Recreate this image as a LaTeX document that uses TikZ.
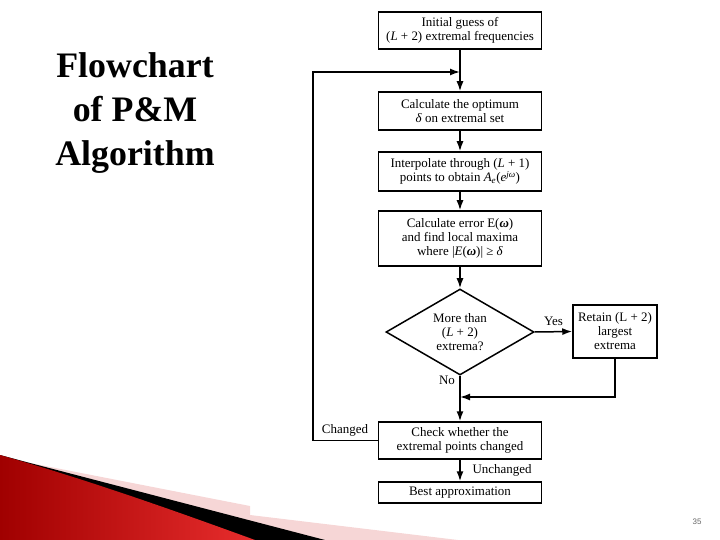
\documentclass[tikz,border=0pt]{standalone}
\usepackage{fontspec}
\setmainfont{Liberation Serif}
\newfontfamily\numfont{Liberation Sans}
\usetikzlibrary{shapes.geometric,arrows.meta}
\definecolor{swpink}{RGB}{246,214,214}
\definecolor{swdark}{RGB}{160,0,0}
\definecolor{swlight}{RGB}{232,45,45}
\begin{document}
\begin{tikzpicture}[x=1bp,y=-1bp,
  box/.style={draw, line width=1.5bp, minimum width=163bp, inner sep=1bp, align=center, font=\fontsize{13}{14}\selectfont},
  arr/.style={line width=1.5bp, -{Latex[length=10bp,width=7bp]}},
  lbl/.style={font=\fontsize{13}{14}\selectfont, inner sep=1bp},
  ttl/.style={align=center, font=\fontsize{36}{44}\selectfont\bfseries}]
\useasboundingbox (0,0) rectangle (720,540);
% swoosh
\fill[swpink] (30,463) -- (250,506) -- (250,515) -- (458,540) -- (0,540) -- cycle;
\fill[black] (0,455) -- (30,463) -- (325,540) -- (0,540) -- cycle;
\shade[left color=swdark, right color=swlight] (0,455) .. controls (85,479) and (170,509) .. (255,540) -- (0,540) -- cycle;
% title
\node[ttl] (title) at (135,113) {Flowchart\\of P\&M\\Algorithm};
% page number
\node[font=\numfont\fontsize{8}{9}\selectfont, text=gray!80!black] (pnum) at (697,522) {35};
% flowchart nodes
\node[box, minimum height=37bp] (b1) at (460,30.5) {Initial guess of\\(\textit{L} + 2) extremal frequencies};
\node[box, minimum height=38bp] (b2) at (460,111) {Calculate the optimum\\\textit{δ} on extremal set};
\node[box, minimum height=39bp] (b3) at (460,171.5) {Interpolate through (\textit{L} + 1)\\points to obtain \textit{A}\textsubscript{\textit{e}}(\textit{e}\textsuperscript{\textit{jω}})};
\node[box, minimum height=55bp] (b4) at (460,238.5) {Calculate error E(\textbf{\textit{ω}})\\and find local maxima\\where |\textit{E}(\textbf{\textit{ω}})| ≥ \textit{δ}};
\node[draw, line width=1.5bp, diamond, aspect=1.72, minimum width=148bp, minimum height=86bp, inner sep=0pt, align=center, font=\fontsize{13}{14}\selectfont] (d) at (460,332) {More than\\(\textit{L} + 2)\\extrema?};
\node[box, minimum width=84bp, minimum height=53bp] (r) at (615,331.5) {Retain (L + 2)\\largest\\extrema};
\node[box, minimum height=37bp] (c) at (460,440.5) {Check whether the\\extremal points changed};
\node[box, minimum height=21bp] (e) at (460,492.5) {Best approximation};
% helper coordinates
\coordinate (j1) at (460,72);
\coordinate (lb) at (313,440.5);
\coordinate (lt) at (313,72);
\coordinate (rb) at (615,397);
\coordinate (j2) at (460,397);
% connectors
\draw[arr] (b1.south) -- (b2.north);
\draw[arr] (c.west) -- (lb) -- (lt) -- (j1);
\draw[arr] (b2.south) -- (b3.north);
\draw[arr] (b3.south) -- (b4.north);
\draw[arr] (b4.south) -- (d.north);
\draw[arr] (d.east) -- node[lbl, above=4bp] (yes) {Yes} (r.west);
\draw[arr] (d.south) -- (c.north);
\draw[arr] (r.south) -- (rb) -- (j2);
\draw[arr] (c.south) -- (e.north);
% labels
\node[lbl] (no) at (447,380) {No};
\node[lbl] (chg) at (345,430) {Changed};
\node[lbl] (unchg) at (502,470) {Unchanged};
\end{tikzpicture}
\end{document}
